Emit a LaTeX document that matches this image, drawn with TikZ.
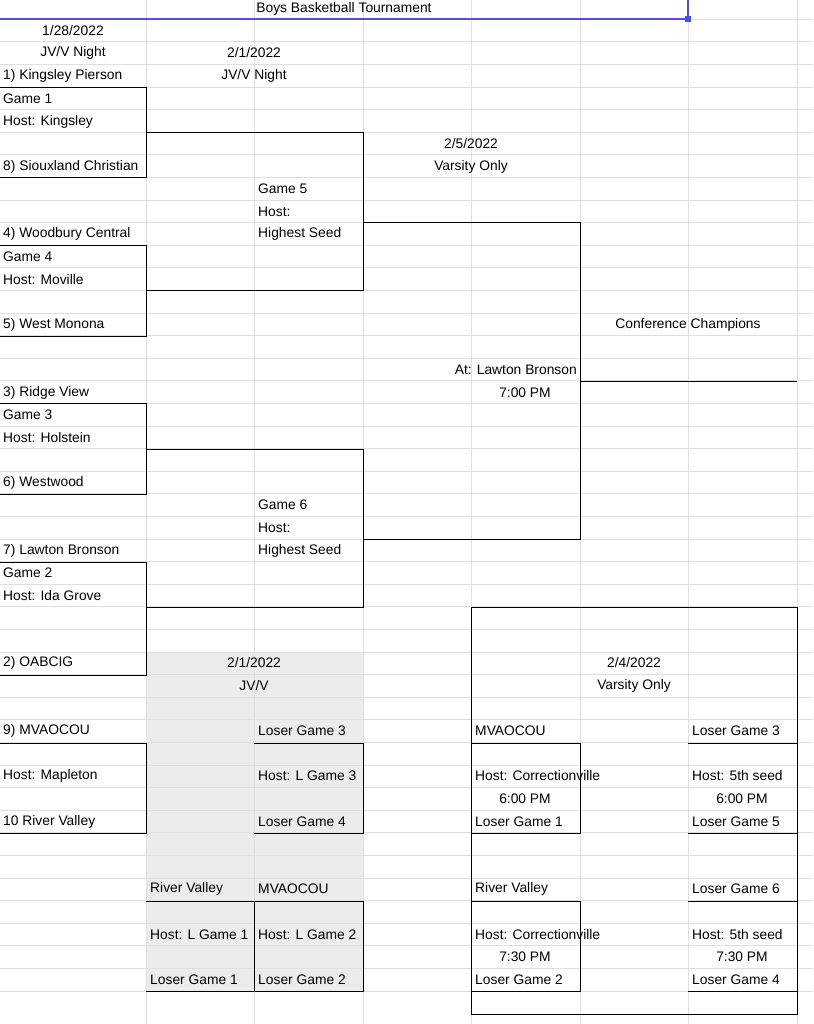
\documentclass[tikz,border=0pt]{standalone}
\usepackage{fontspec}
\setmainfont{Liberation Sans}
\begin{document}
\begin{tikzpicture}[
  x=0.3mm, y=-0.3mm,
  font=\fontsize{11.8}{13}\selectfont,
  gridline/.style={gray!25, line width=0.4pt},
  bracket/.style={black, line width=0.7pt},
  cell/.style={anchor=west, inner sep=0pt},
  mid/.style={anchor=center, inner sep=0pt},
]
\useasboundingbox (0,0) rectangle (813,1024);

% shaded block
\fill[gray!15] (146,652) rectangle (363,991);

% sheet grid
\foreach \cx in {146,254,363,471,580,688,797}
  \draw[gridline] (\cx,0) -- (\cx,1024);
\foreach \r in {1,...,44}
  \draw[gridline] (0,{19+22.6*(\r-1)}) -- (813,{19+22.6*(\r-1)});

% title row
\node[mid] (title) at (344,9) {Boys Basketball Tournament};
\draw[blue!70, line width=1pt] (0,19) -- (688,19) -- (688,0);
\fill[blue!70] (685,16) rectangle (691,22);

% first round
\draw[bracket] (0,87) -- (146,87) -- (146,177) -- (0,177);
\draw[bracket] (0,245) -- (146,245) -- (146,336) -- (0,336);
\draw[bracket] (0,403) -- (146,403) -- (146,494) -- (0,494);
\draw[bracket] (0,562) -- (146,562) -- (146,675) -- (0,675);
% semifinals
\draw[bracket] (146,132) -- (363,132) -- (363,290) -- (146,290);
\draw[bracket] (146,449) -- (363,449) -- (363,607) -- (146,607);
% final
\draw[bracket] (363,222) -- (580,222) -- (580,539) -- (363,539);
\draw[bracket] (580,381) -- (797,381);

% consolation
\draw[bracket] (0,743) -- (146,743) -- (146,833) -- (0,833);
\draw[bracket] (254,743) -- (363,743) -- (363,833) -- (254,833);
\draw[bracket] (146,901) -- (254,901) -- (254,991) -- (146,991);
\draw[bracket] (254,901) -- (363,901) -- (363,991) -- (254,991);
\draw[bracket] (471,607) rectangle (797,1014);
\draw[bracket] (471,743) -- (580,743) -- (580,833) -- (471,833);
\draw[bracket] (471,901) -- (580,901) -- (580,991) -- (471,991);
\draw[bracket] (688,743) -- (797,743);
\draw[bracket] (688,833) -- (797,833);
\draw[bracket] (688,901) -- (797,901);
\draw[bracket] (688,991) -- (797,991);

% headers
\node[mid] (dateA) at (73,31) {1/28/2022};
\node[mid] (nightA) at (73,53) {JV/V Night};
\node[mid] (dateB) at (254,53) {2/1/2022};
\node[mid] (nightB) at (254,76) {JV/V Night};
\node[mid] (dateC) at (471,144) {2/5/2022};
\node[mid] (varsC) at (471,167) {Varsity Only};
\node[mid] (champ) at (688,325) {Conference Champions};
\node[anchor=east, inner sep=0pt] (site) at (577,370) {At: Lawton Bronson};
\node[mid] (timeC) at (525,393) {7:00 PM};
\node[mid] (dateD) at (254,663) {2/1/2022};
\node[mid] (jvD) at (254,686) {JV/V};
\node[mid] (dateE) at (634,663) {2/4/2022};
\node[mid] (varsE) at (634,686) {Varsity Only};

% left column
\node[cell] (t1) at (3,76) {1) Kingsley Pierson};
\node[cell] (g1) at (3,99) {Game 1};
\node[cell] (h1) at (3,122) {Host: Kingsley};
\node[cell] (t8) at (3,167) {8) Siouxland Christian};
\node[cell] (t4) at (3,234) {4) Woodbury Central};
\node[cell] (g4) at (3,257) {Game 4};
\node[cell] (h4) at (3,280) {Host: Moville};
\node[cell] (t5) at (3,325) {5) West Monona};
\node[cell] (t3) at (3,393) {3) Ridge View};
\node[cell] (g3) at (3,415) {Game 3};
\node[cell] (h3) at (3,438) {Host: Holstein};
\node[cell] (t6) at (3,483) {6) Westwood};
\node[cell] (t7) at (3,551) {7) Lawton Bronson};
\node[cell] (g2) at (3,573) {Game 2};
\node[cell] (h2) at (3,596) {Host: Ida Grove};
\node[cell] (t2) at (3,663) {2) OABCIG};
\node[cell] (t9) at (3,731) {9) MVAOCOU};
\node[cell] (h9) at (3,776) {Host: Mapleton};
\node[cell] (t10) at (3,822) {10 River Valley};

% semifinal cells
\node[cell] (g5) at (258,189) {Game 5};
\node[cell] (h5) at (258,212) {Host:};
\node[cell] (s5) at (258,234) {Highest Seed};
\node[cell] (g6) at (258,505) {Game 6};
\node[cell] (h6) at (258,528) {Host:};
\node[cell] (s6) at (258,551) {Highest Seed};

% JV/V consolation
\node[cell] (lA) at (258,731) {Loser Game 3};
\node[cell] (hA) at (258,776) {Host: L Game 3};
\node[cell] (lB) at (258,822) {Loser Game 4};
\node[cell] (rv) at (150,889) {River Valley};
\node[cell] (hrv) at (150,935) {Host: L Game 1};
\node[cell] (lrv) at (150,980) {Loser Game 1};
\node[cell] (mv) at (258,889) {MVAOCOU};
\node[cell] (hmv) at (258,935) {Host: L Game 2};
\node[cell] (lmv) at (258,980) {Loser Game 2};

% varsity consolation
\node[cell] (vm) at (475,731) {MVAOCOU};
\node[cell] (vh1) at (475,776) {Host: Correctionville};
\node[mid] (vt1) at (525,799) {6:00 PM};
\node[cell] (vl1) at (475,822) {Loser Game 1};
\node[cell] (vr) at (475,889) {River Valley};
\node[cell] (vh2) at (475,935) {Host: Correctionville};
\node[mid] (vt2) at (525,957) {7:30 PM};
\node[cell] (vl2) at (475,980) {Loser Game 2};
\node[cell] (wl3) at (692,731) {Loser Game 3};
\node[cell] (wh1) at (692,776) {Host: 5th seed};
\node[mid] (wt1) at (742,799) {6:00 PM};
\node[cell] (wl5) at (692,822) {Loser Game 5};
\node[cell] (wl6) at (692,889) {Loser Game 6};
\node[cell] (wh2) at (692,935) {Host: 5th seed};
\node[mid] (wt2) at (742,957) {7:30 PM};
\node[cell] (wl4) at (692,980) {Loser Game 4};
\end{tikzpicture}
\end{document}
